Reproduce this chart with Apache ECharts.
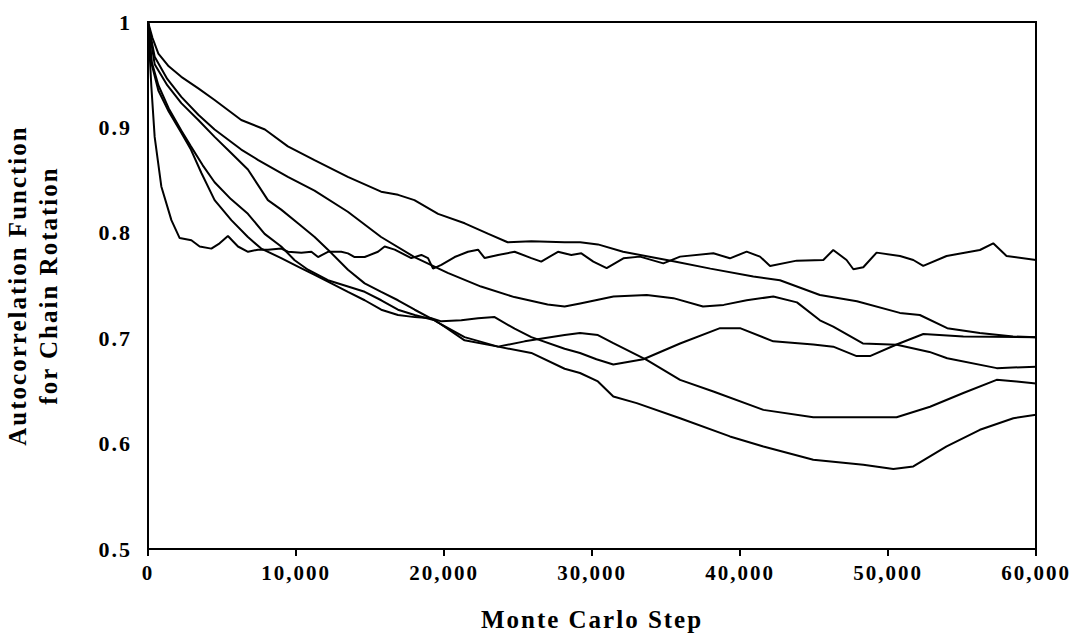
<!DOCTYPE html>
<html>
<head>
<meta charset="utf-8">
<script src="https://cdn.jsdelivr.net/npm/echarts@6/dist/echarts.min.js"></script>
<style>
html,body{margin:0;padding:0;background:#fff;}
#c{width:1077px;height:636px;}
#c text{letter-spacing:2px;}
</style>
</head>
<body>
<div id="c"></div>
<script>
// Tick values
const xTicks = [0, 10000, 20000, 30000, 40000, 50000, 60000];
const yTicks = [0.5, 0.6, 0.7, 0.8, 0.9, 1];

// Curve with fast drop then noisy plateau (~0.78)
const curveA = [[0,1],[225,0.939],[450,0.891],[900,0.844],[1580,0.812],[2140,0.795],[2930,0.793],[3490,0.787],[4280,0.785],[4840,0.790],[5400,0.797],[6080,0.787],[6760,0.782],[7430,0.784],[8110,0.784],[9010,0.785],[9460,0.782],[10360,0.781],[11040,0.782],[11490,0.777],[12160,0.782],[13060,0.782],[13510,0.7805],[13960,0.777],[14640,0.777],[15540,0.782],[15990,0.787],[16670,0.784],[17790,0.776],[18470,0.779],[18920,0.776],[19260,0.766],[19820,0.7695],[20720,0.777],[21620,0.782],[22300,0.784],[22750,0.776],[23650,0.779],[24770,0.782],[25900,0.776],[26570,0.7726],[27700,0.782],[28600,0.779],[29280,0.7805],[30090,0.7727],[30990,0.7664],[32120,0.7758],[33240,0.7774],[34820,0.771],[35950,0.7774],[38200,0.7806],[39320,0.7758],[40450,0.7821],[41350,0.7774],[42030,0.7686],[43830,0.7736],[45630,0.7742],[46300,0.7837],[47200,0.7742],[47660,0.7654],[48330,0.7673],[49230,0.7812],[50810,0.778],[51710,0.7742],[52380,0.7686],[53960,0.778],[56210,0.7837],[57110,0.79],[58010,0.778],[60000,0.7742]];

// Slowest decaying curve (top)
const curveT = [[0,1],[300,0.985],[700,0.970],[1400,0.958],[2250,0.948],[3400,0.937],[4500,0.926],[6300,0.907],[7900,0.898],[9450,0.882],[11250,0.869],[13500,0.853],[15750,0.839],[16900,0.836],[18000,0.831],[19600,0.818],[21400,0.809],[23000,0.799],[24300,0.791],[25900,0.792],[28150,0.791],[29200,0.791],[30400,0.789],[32100,0.782],[35500,0.773],[38000,0.766],[40900,0.7585],[42700,0.755],[45400,0.741],[47900,0.735],[50800,0.724],[52150,0.722],[54000,0.7095],[56200,0.705],[58450,0.7016],[60000,0.701]];

// Second slowest curve
const curveS = [[0,1],[450,0.967],[1300,0.946],[2250,0.929],[3400,0.912],[4500,0.898],[6300,0.879],[7450,0.869],[9450,0.853],[11250,0.840],[13500,0.820],[15750,0.796],[18000,0.777],[20250,0.762],[22500,0.749],[24750,0.739],[27000,0.732],[28150,0.730],[29200,0.733],[31450,0.7395],[33700,0.741],[35500,0.738],[37500,0.730],[38900,0.7316],[40450,0.736],[42250,0.7395],[43850,0.734],[45400,0.717],[46300,0.711],[48300,0.695],[50600,0.6937],[52800,0.687],[54000,0.681],[57350,0.6716],[60000,0.673]];

// Fast curve with hump near 40,000
const curveH = [[0,1],[250,0.96],[700,0.935],[1400,0.915],[2250,0.895],[2900,0.879],[3600,0.857],[4500,0.831],[5630,0.812],[6750,0.796],[7650,0.785],[9000,0.776],[10130,0.768],[11260,0.760],[12390,0.752],[13510,0.744],[14640,0.736],[15760,0.727],[16890,0.722],[18020,0.720],[19140,0.719],[19820,0.716],[21170,0.717],[22300,0.719],[23420,0.720],[24770,0.709],[25900,0.701],[28150,0.690],[29190,0.686],[30300,0.680],[31440,0.675],[33470,0.680],[35950,0.695],[38650,0.7095],[40000,0.7095],[42250,0.697],[44950,0.694],[46300,0.692],[47880,0.683],[48780,0.683],[50580,0.694],[52390,0.704],[55090,0.7016],[60000,0.701]];

// Fast curve ending near 0.657
const curveE = [[0,1],[250,0.962],[700,0.940],[1400,0.918],[2250,0.897],[2900,0.882],[3700,0.864],[4500,0.848],[5600,0.832],[6750,0.818],[7880,0.799],[9000,0.787],[9910,0.774],[10810,0.765],[12160,0.755],[13510,0.749],[14640,0.744],[15760,0.736],[16890,0.727],[18020,0.722],[19370,0.717],[19820,0.713],[21390,0.698],[23650,0.692],[25450,0.697],[28150,0.703],[29190,0.705],[30400,0.703],[31440,0.6953],[33690,0.6795],[35950,0.6605],[38200,0.6494],[41580,0.632],[44950,0.625],[48330,0.625],[50580,0.625],[52840,0.635],[55090,0.648],[57340,0.6605],[58690,0.659],[60000,0.657]];

// Fast curve with lowest minimum (~0.575 near 50,000)
const curveF = [[0,1],[450,0.960],[1300,0.940],[2250,0.923],[3400,0.907],[4500,0.891],[5600,0.876],[6750,0.860],[8100,0.831],[9000,0.822],[10130,0.809],[11260,0.796],[12160,0.784],[13510,0.765],[14640,0.752],[15760,0.744],[16890,0.736],[18020,0.727],[19370,0.717],[19820,0.713],[21390,0.701],[23650,0.692],[25900,0.686],[28150,0.671],[29190,0.667],[30400,0.659],[31440,0.6447],[33020,0.6384],[35950,0.6241],[39320,0.6068],[41580,0.5973],[44950,0.5847],[48330,0.5799],[50360,0.5758],[51710,0.5783],[53960,0.5973],[56210,0.6131],[58470,0.6241],[60000,0.6273]];

const curves = [curveA, curveT, curveS, curveH, curveE, curveF];

const FONT = '"Liberation Serif", "Times New Roman", serif';
const chart = echarts.init(document.getElementById('c'), null, {renderer: 'svg'});
chart.setOption({
  animation: false,
  backgroundColor: '#fff',
  grid: {left: 148, right: 41, top: 22, bottom: 87, show: true, borderColor: '#000', borderWidth: 2, outerBoundsMode: 'none'},
  xAxis: {
    type: 'value', min: xTicks[0], max: xTicks[xTicks.length - 1], interval: xTicks[1] - xTicks[0],
    name: 'Monte Carlo Step', nameLocation: 'middle', nameGap: 58,
    nameTextStyle: {fontFamily: FONT, fontWeight: 'bold', fontSize: 25, color: '#000'},
    axisLine: {lineStyle: {color: '#000', width: 2}},
    axisTick: {show: true, inside: false, length: 7, lineStyle: {color: '#000', width: 2}},
    splitLine: {show: false},
    axisLabel: {margin: 13, fontFamily: FONT, fontWeight: 'bold', fontSize: 21, color: '#000',
      formatter: v => v.toLocaleString('en-US')}
  },
  yAxis: {
    type: 'value', min: yTicks[0], max: yTicks[yTicks.length - 1], interval: 0.1,
    name: 'Autocorrelation Function\nfor Chain Rotation', nameLocation: 'middle', nameGap: 84, nameRotate: 90,
    nameTextStyle: {fontFamily: FONT, fontWeight: 'bold', fontSize: 25, color: '#000', lineHeight: 31},
    axisLine: {lineStyle: {color: '#000', width: 2}},
    axisTick: {show: false},
    splitLine: {show: false},
    axisLabel: {margin: 16, fontFamily: FONT, fontWeight: 'bold', fontSize: 22, color: '#000',
      formatter: v => (Math.abs(v - 1) < 1e-9 ? '1' : v.toFixed(1))}
  },
  series: curves.map(d => ({
    type: 'line', data: d, showSymbol: false, smooth: false, clip: true,
    lineStyle: {color: '#000', width: 2}
  }))
});
</script>
</body>
</html>
